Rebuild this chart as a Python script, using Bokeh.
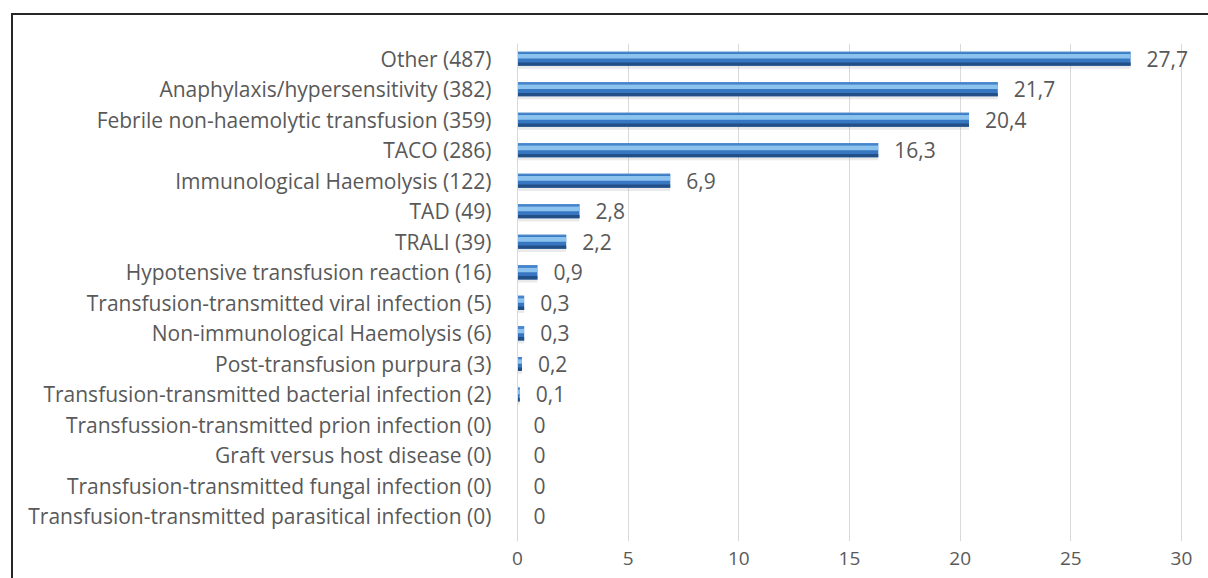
from bokeh.plotting import figure
from bokeh.models import Range1d, ColumnDataSource, FixedTicker
from bokeh.transform import dodge
from bokeh.core.properties import value
from bokeh.embed import file_html
from bokeh.resources import INLINE

categories = [
    "Other (487)",
    "Anaphylaxis/hypersensitivity (382)",
    "Febrile non-haemolytic transfusion (359)",
    "TACO (286)",
    "Immunological Haemolysis (122)",
    "TAD (49)",
    "TRALI (39)",
    "Hypotensive transfusion reaction (16)",
    "Transfusion-transmitted viral infection (5)",
    "Non-immunological Haemolysis (6)",
    "Post-transfusion purpura (3)",
    "Transfusion-transmitted bacterial infection (2)",
    "Transfussion-transmitted prion infection (0)",
    "Graft versus host disease (0)",
    "Transfusion-transmitted fungal infection (0)",
    "Transfusion-transmitted parasitical infection (0)",
]
percent = [27.7, 21.7, 20.4, 16.3, 6.9, 2.8, 2.2, 0.9, 0.3, 0.3, 0.2, 0.1, 0, 0, 0, 0]
x_ticks = [0, 5, 10, 15, 20, 25, 30]

n = len(categories)
ypos = [n - 1 - i for i in range(n)]  # first category at top
labels = [("0" if v == 0 else f"{v:.1f}".replace(".", ",")) for v in percent]
src = ColumnDataSource(dict(y=ypos, cat=categories, val=percent, lab=labels))

FONT = "Open Sans"
GREY = "#595959"

p = figure(
    width=1195, height=563,
    y_range=Range1d(-0.82, n - 0.5),
    x_range=Range1d(0, 30.95),
    output_backend="svg", toolbar_location=None,
    min_border_left=504, min_border_right=8, min_border_top=28, min_border_bottom=39,
)
p.margin = (13, 0, 0, 11)
p.styles = {"border-left": "2px solid #262626", "border-top": "2px solid #262626",
            "box-sizing": "content-box"}
p.outline_line_color = None
p.background_fill_color = "white"
p.border_fill_color = "white"

# shadow
p.hbar(y=dodge("y", -0.1), right="val", left=0, height=0.46,
       source=src, fill_color="#9e9e9e", fill_alpha=0.22, line_color=None)
# main bar body
p.hbar(y="y", right="val", left=0, height=0.46, source=src,
       fill_color="#3777c2", line_color=None)
# dark lower band
p.hbar(y=dodge("y", -0.175), right="val", left=0, height=0.11,
       source=src, fill_color="#224f86", line_color=None)
# light upper band
p.hbar(y=dodge("y", 0.08), right="val", left=0, height=0.15,
       source=src, fill_color="#8cc2ee", line_color=None)
# top edge
p.hbar(y=dodge("y", 0.205), right="val", left=0, height=0.05,
       source=src, fill_color="#4a88cc", line_color=None)

p.text(x="val", y="y", text="lab", source=src, x_offset=16,
       text_baseline="middle", text_align="left", text_font=value(FONT),
       text_font_size="21px", text_color=GREY)

p.xaxis.ticker = FixedTicker(ticks=x_ticks)
p.xaxis.axis_line_color = None
p.xaxis.major_tick_line_color = None
p.xaxis.minor_tick_line_color = None
p.xaxis.major_label_text_font = FONT
p.xaxis.major_label_text_font_size = "19px"
p.xaxis.major_label_text_color = GREY
p.xaxis.major_label_standoff = 4

p.yaxis.ticker = FixedTicker(ticks=ypos)
p.yaxis.major_label_overrides = {y: c for y, c in zip(ypos, categories)}
p.yaxis.axis_line_color = "#d9d9d9"
p.yaxis.axis_line_width = 1
p.yaxis.major_tick_line_color = None
p.yaxis.minor_tick_line_color = None
p.yaxis.major_label_text_font = FONT
p.yaxis.major_label_text_font_size = "21px"
p.yaxis.major_label_text_color = GREY
p.yaxis.major_label_standoff = 20

p.xgrid.grid_line_color = "#d9d9d9"
p.xgrid.ticker = FixedTicker(ticks=x_ticks)
p.ygrid.grid_line_color = None

open("out.html", "w").write(file_html(p, INLINE))
